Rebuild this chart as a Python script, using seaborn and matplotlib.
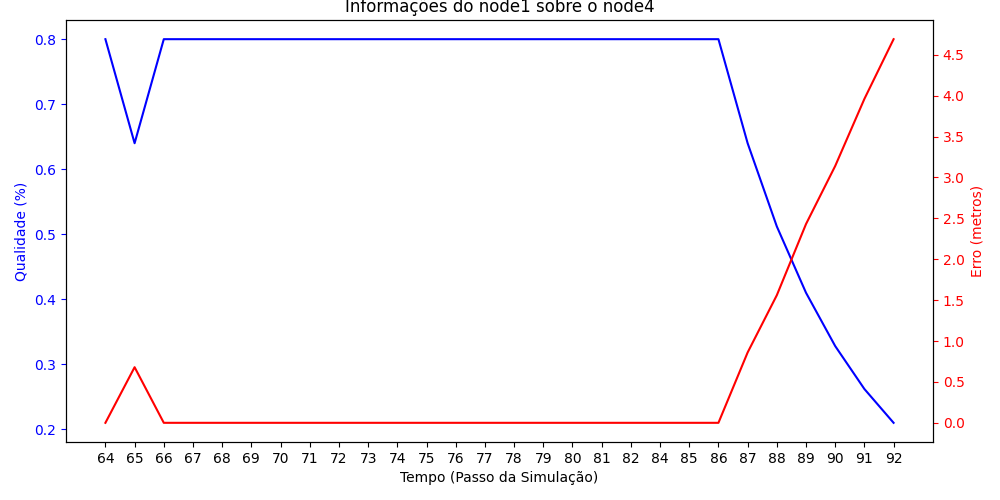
import numpy as np
import pandas as pd
import seaborn as sns
from matplotlib import pyplot as plt

# simulation steps (83 is not in the data)
tempo = [64, 65, 66, 67, 68, 69, 70, 71, 72, 73, 74, 75, 76, 77, 78, 79, 80, 81, 82,
         84, 85, 86, 87, 88, 89, 90, 91, 92]
qualidade = [0.8, 0.64, 0.8, 0.8, 0.8, 0.8, 0.8, 0.8, 0.8, 0.8, 0.8, 0.8, 0.8, 0.8,
             0.8, 0.8, 0.8, 0.8, 0.8, 0.8, 0.8, 0.8, 0.64, 0.512, 0.41, 0.328, 0.262, 0.21]
erro = [0.0, 0.68, 0.0, 0.0, 0.0, 0.0, 0.0, 0.0, 0.0, 0.0, 0.0, 0.0, 0.0, 0.0,
        0.0, 0.0, 0.0, 0.0, 0.0, 0.0, 0.0, 0.0, 0.86, 1.56, 2.43, 3.14, 3.96, 4.69]

df = pd.DataFrame({'pos': np.arange(len(tempo)), 'qualidade': qualidade, 'erro': erro})

fig, ax1 = plt.subplots(figsize=(10, 5), dpi=100)
sns.lineplot(data=df, x='pos', y='qualidade', color='blue', ax=ax1)
ax1.set_xlabel('Tempo (Passo da Simulação)')
ax1.set_ylabel('Qualidade (%)', color='blue')
ax1.tick_params(axis='y', labelcolor='blue', color='blue')
ax1.set_xticks(df['pos'])
ax1.set_xticklabels([str(t) for t in tempo])

ax2 = ax1.twinx()
sns.lineplot(data=df, x='pos', y='erro', color='red', ax=ax2)
ax2.set_ylabel('Erro (metros)', color='red')
ax2.tick_params(axis='y', labelcolor='red', color='red')
ax2.set_yticks(np.arange(0, 5.0, 0.5))

plt.title('Informações do node1 sobre o node4')
fig.subplots_adjust(left=0.066, right=0.933, top=0.96, bottom=0.116)
plt.savefig('out.png')
